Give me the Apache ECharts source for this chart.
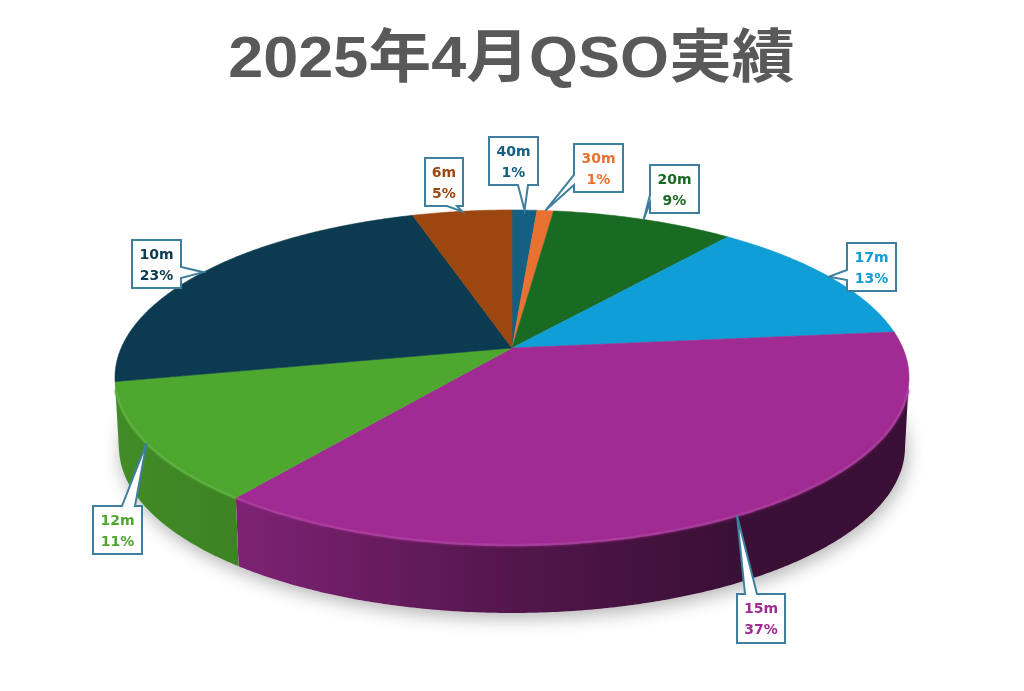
<!DOCTYPE html>
<html><head><meta charset="utf-8">
<style>html,body{margin:0;padding:0;background:#fff}#c{width:1024px;height:691px}</style>
<script src="https://cdn.jsdelivr.net/npm/echarts@6/dist/echarts.min.js"></script>
</head><body><div id="c"></div>
<script>
var titleText = '2025年4月QSO実績';
var categories = ['40m','30m','20m','17m','15m','12m','10m','6m'];
var values = [1.2,0.8,8.8,12.6,37.0,11.4,23.4,4.8];
var colors = ['#156082','#E97132','#196B24','#0F9ED5','#A02B93','#4EA72E','#0C3A50','#9C4610'];
// callout boxes: x0,y0,x1,y1, side holding the wedge, wedge base start, wedge base end
var callouts = [
 [489,137,538,185,'b',518,528],
 [574,144,623,192,'l',175,185],
 [650,165,699,213,'l',195,203],
 [847,243,896,291,'l',270,280],
 [737,594,785,643,'t',745,757],
 [93,506,142,554,'t',122,135],
 [132,240,181,288,'r',267,278],
 [425,158,463,206,'b',447,457]
];
// perspective disc
var P = {cx:512, cy:348, a:390.8, b:162.3, k:0.176, depth:70, bottomScale:0.99};
var total = values.reduce(function(s,v){return s+v;},0);
var cum = [0];
values.forEach(function(v,i){cum.push(cum[i]+v);});
function rad(p){return p/total*Math.PI*2;}
function pt(t,lower){
  var x=Math.sin(t), y=-Math.cos(t), w=1-P.k*y;
  var s=lower?P.bottomScale:1;
  return [P.cx+s*P.a*x/w, P.cy+s*P.b*y/w+(lower?P.depth:0)];
}
function arc(t0,t1,lower){
  var n=Math.max(2,Math.ceil(Math.abs(t1-t0)/(Math.PI/360))),r=[];
  for(var i=0;i<=n;i++) r.push(pt(t0+(t1-t0)*i/n,lower));
  return r;
}
function mix(hex,f,toWhite){
  var c=[1,3,5].map(function(i){return parseInt(hex.substr(i,2),16);});
  c=c.map(function(v){return Math.round(toWhite?v+(255-v)*f:v*f);});
  return 'rgb('+c.join(',')+')';
}
var frontA=Math.PI/2+Math.asin(P.k), frontB=Math.PI*1.5-Math.asin(P.k);
var rimInset=Math.PI/45;
function wallGrad(hex){
  return new echarts.graphic.LinearGradient(115,0,908,0,[
    {offset:0,color:mix(hex,.84)},{offset:.16,color:mix(hex,.78)},
    {offset:.5,color:mix(hex,.52)},{offset:.76,color:mix(hex,.37)},{offset:1,color:mix(hex,.36)}
  ],true);
}
function renderShadow(){
  return {type:'polygon',silent:true,shape:{points:arc(0,Math.PI*2,true)},
    style:{fill:'#fff',shadowBlur:18,shadowColor:'rgba(0,0,0,0.3)',shadowOffsetY:5,shadowOffsetX:2}};
}
function renderSlice(params,api){
  var i=api.value(0), t0=rad(cum[i]), t1=rad(cum[i]+api.value(1)), hex=colors[i], kids=[];
  var a=Math.max(t0,frontA), b=Math.min(t1,frontB);
  if(b>a){
    kids.push({type:'polygon',shape:{points:arc(a,b,false).concat(arc(b,a,true))},
      style:{fill:wallGrad(hex)}});
  }
  var face=[[P.cx,P.cy]].concat(arc(t0,t1,false));
  kids.push({type:'polygon',shape:{points:face},style:{fill:hex,stroke:hex,lineWidth:.6}});
  var ra=Math.max(t0,frontA+rimInset), rb=Math.min(t1,frontB-rimInset);
  if(rb>ra){
    kids.push({type:'polyline',shape:{points:arc(ra,rb,false)},
      style:{fill:null,stroke:mix(hex,.1,true),lineWidth:2.5,opacity:.85,shadowBlur:3,shadowColor:hex}});
  }
  return {type:'group',children:kids};
}
function renderCallout(params,api){
  var i=api.value(0), c=callouts[i], x0=c[0],y0=c[1],x1=c[2],y1=c[3];
  var tip=pt(rad(cum[i]+values[i]/2),false), pts;
  if(c[4]==='t') pts=[[x0,y0],[c[5],y0],tip,[c[6],y0],[x1,y0],[x1,y1],[x0,y1]];
  if(c[4]==='b') pts=[[x0,y0],[x1,y0],[x1,y1],[c[6],y1],tip,[c[5],y1],[x0,y1]];
  if(c[4]==='l') pts=[[x0,y0],[x1,y0],[x1,y1],[x0,y1],[x0,c[6]],tip,[x0,c[5]]];
  if(c[4]==='r') pts=[[x0,y0],[x1,y0],[x1,c[5]],tip,[x1,c[6]],[x1,y1],[x0,y1]];
  var pct=Math.round(values[i]/total*100)+'%';
  return {type:'group',children:[
    {type:'polygon',shape:{points:pts},style:{fill:'#fff',stroke:'#3F7F9E',lineWidth:2}},
    {type:'text',style:{text:categories[i]+'\n'+pct,x:(x0+x1)/2,y:(y0+y1)/2+1.5,align:'center',verticalAlign:'middle',
      fill:colors[i],font:'bold 14px "DejaVu Sans"',lineHeight:21}}
  ]};
}
var chart=echarts.init(document.getElementById('c'),null,{renderer:'canvas'});
var idx=values.map(function(v,i){return [i,v];});
chart.setOption({
  animation:false,
  backgroundColor:'#fff',
  graphic:[{type:'text',x:511.5,y:61,scaleX:1.085,scaleY:1,silent:true,
    style:{text:titleText,align:'center',verticalAlign:'middle',fill:'#595959',
      font:'bold 58px "Liberation Sans","Noto Sans CJK JP"'}}],
  series:[
    {type:'custom',coordinateSystem:'none',silent:true,z:1,data:[[0]],renderItem:renderShadow},
    {type:'custom',coordinateSystem:'none',silent:true,z:2,data:idx,renderItem:renderSlice},
    {type:'custom',coordinateSystem:'none',silent:true,z:3,data:idx,renderItem:renderCallout}
  ]
});
</script></body></html>
